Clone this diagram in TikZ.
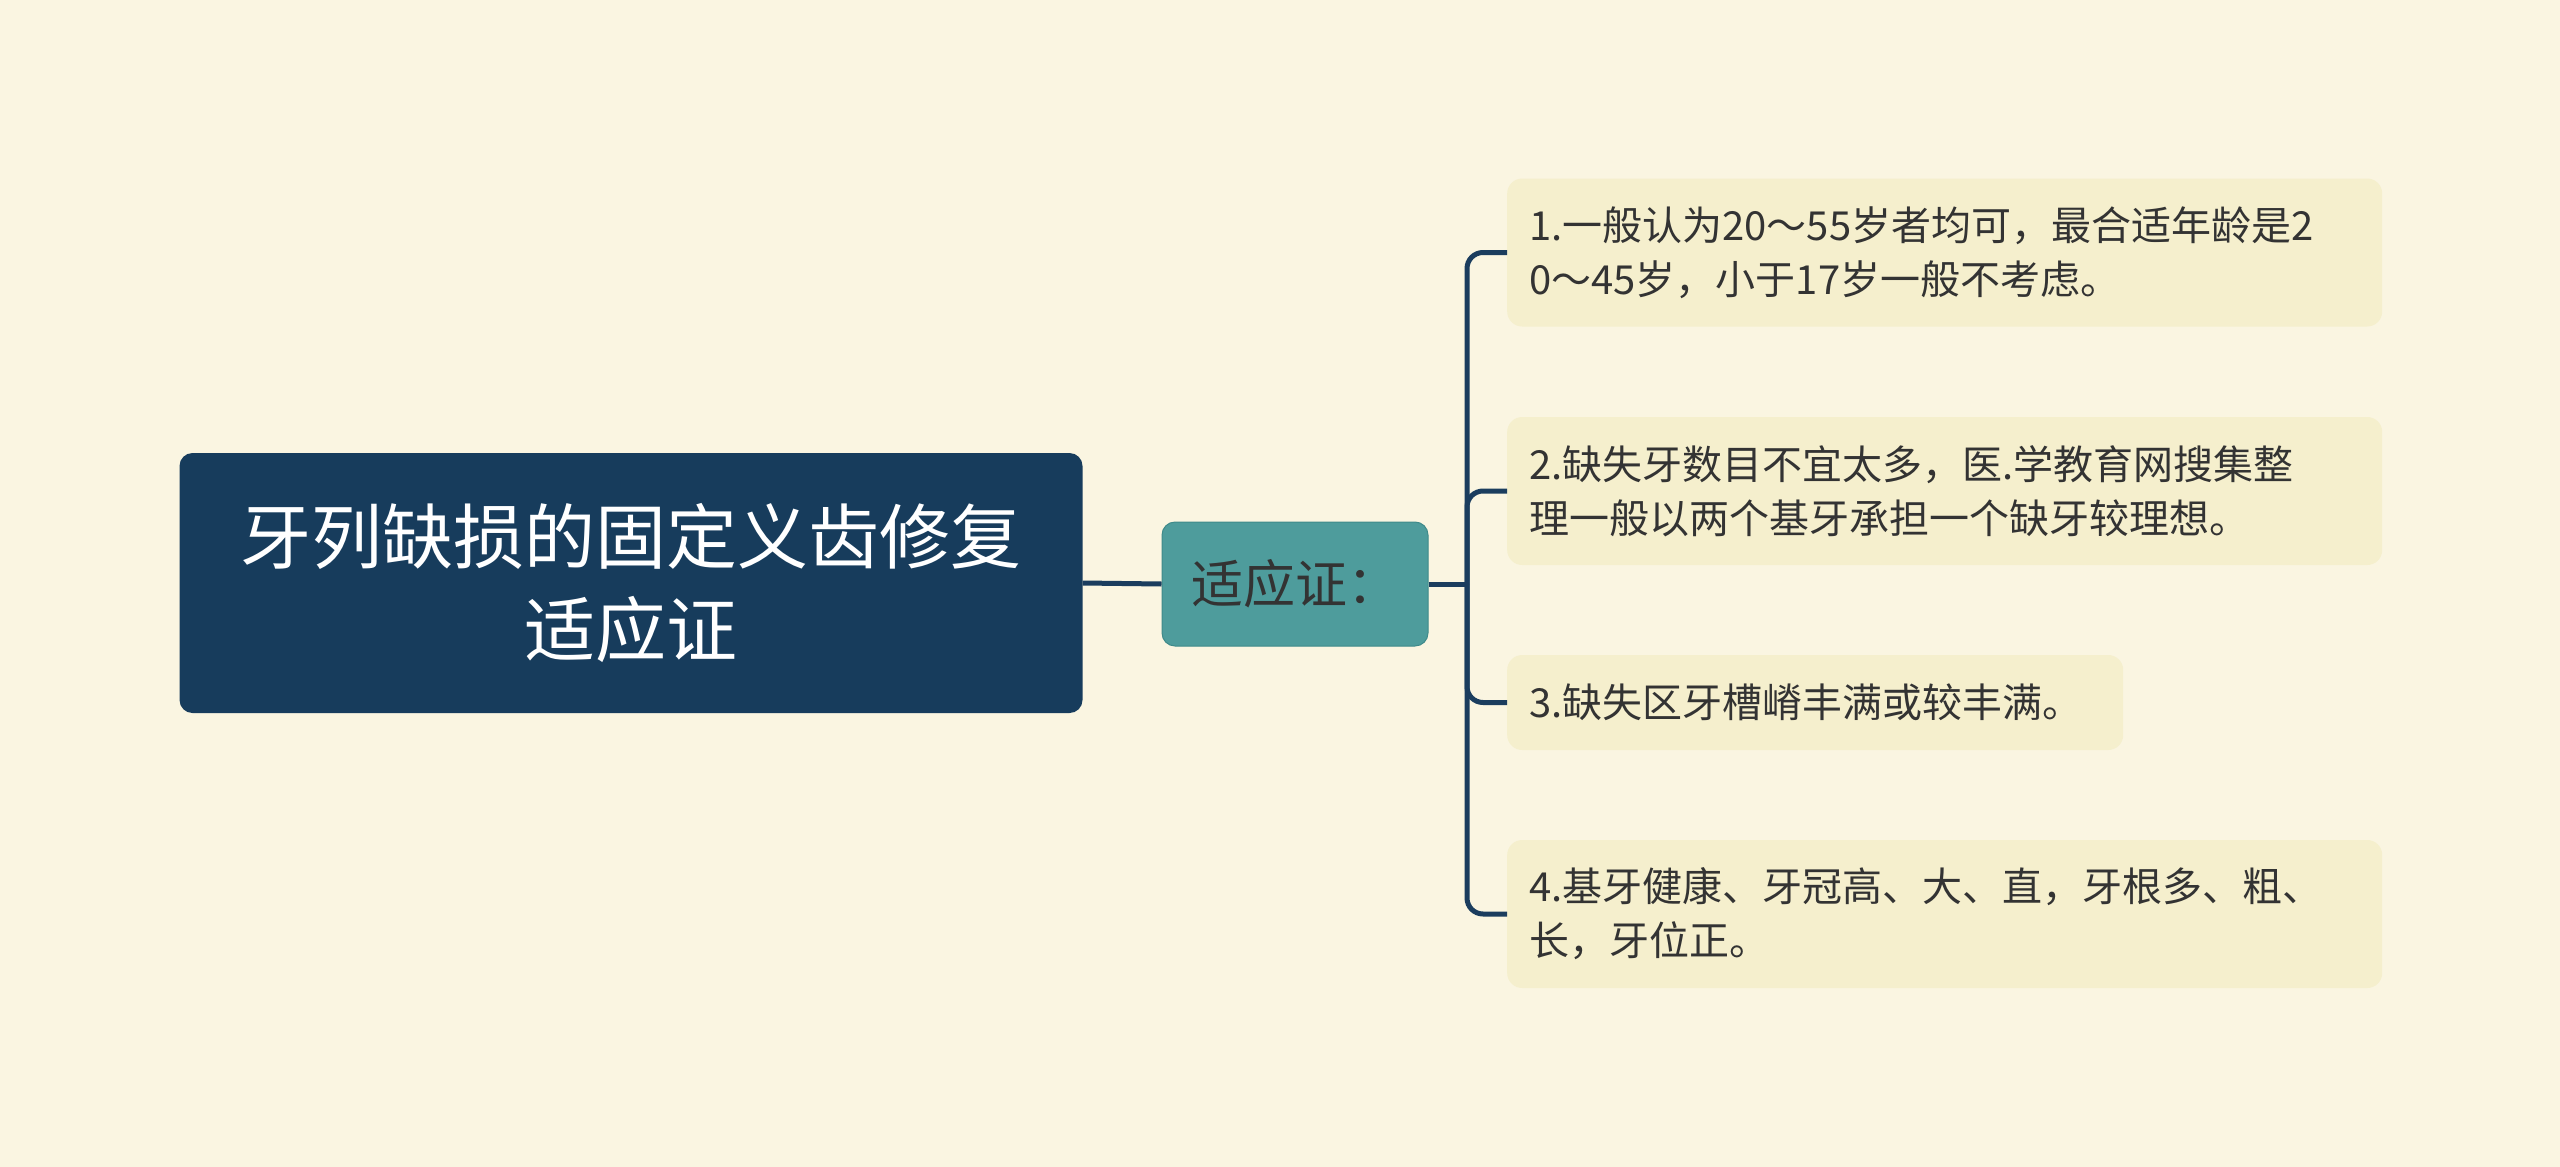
\documentclass[tikz,border=0pt]{standalone}
\usepackage{fontspec}
\newfontfamily\cjk{Noto Sans CJK SC}
\definecolor{bgc}{HTML}{FAF5E1}
\definecolor{rootc}{HTML}{173C5C}
\definecolor{tealc}{HTML}{4E9C9C}
\definecolor{tealb}{HTML}{3F8A8A}
\definecolor{leafc}{HTML}{F5EFCD}
\definecolor{linec}{HTML}{1B3D5E}
\definecolor{txtc}{HTML}{333333}
\begin{document}
\begin{tikzpicture}[x=1pt,y=-1pt,
  rootbox/.style={fill=rootc, rounded corners=13pt, minimum width=903pt, minimum height=260pt,
    text=white, font=\cjk\fontsize{71}{93}\selectfont, align=center, inner sep=0pt},
  midbox/.style={fill=tealc, draw=tealb, line width=1pt, rounded corners=13pt, minimum width=266pt,
    minimum height=124pt, text=txtc, font=\cjk\fontsize{52}{62}\selectfont, inner sep=0pt},
  leafbox/.style={fill=leafc, rounded corners=15pt, inner xsep=22pt, inner ysep=0pt,
    text=txtc, font=\cjk\fontsize{40}{54}\selectfont, align=left, anchor=west},
  conn/.style={draw=linec, line width=5pt},
]
\useasboundingbox (0,0) rectangle (2560,1167);
\fill[bgc] (0,0) rectangle (2560,1167);

\node[rootbox] (root) at (631,583) {牙列缺损的固定义齿修复\\适应证};
\node[midbox] (mid) at (1295,584) {适应证：};

\node[leafbox, text width=831pt, minimum height=148pt] (c1) at (1507,252.5)
  {1.一般认为20～55岁者均可，最合适年龄是2\\0～45岁，小于17岁一般不考虑。};
\node[leafbox, text width=831pt, minimum height=148pt] (c2) at (1507,491)
  {2.缺失牙数目不宜太多，医.学教育网搜集整\\理一般以两个基牙承担一个缺牙较理想。};
\node[leafbox, text width=572pt, minimum height=95pt] (c3) at (1507,702.5)
  {3.缺失区牙槽嵴丰满或较丰满。};
\node[leafbox, text width=831pt, minimum height=148pt] (c4) at (1507,914)
  {4.基牙健康、牙冠高、大、直，牙根多、粗、\\长，牙位正。};

\coordinate (j) at (1467,584);
\draw[conn] (root.east) -- (mid.west);
\draw[conn] (mid.east) -- (j);
\foreach \c in {c1,c2,c3,c4}{
  \draw[conn, rounded corners=16pt] (j) |- (\c.west);
}
\end{tikzpicture}
\end{document}
